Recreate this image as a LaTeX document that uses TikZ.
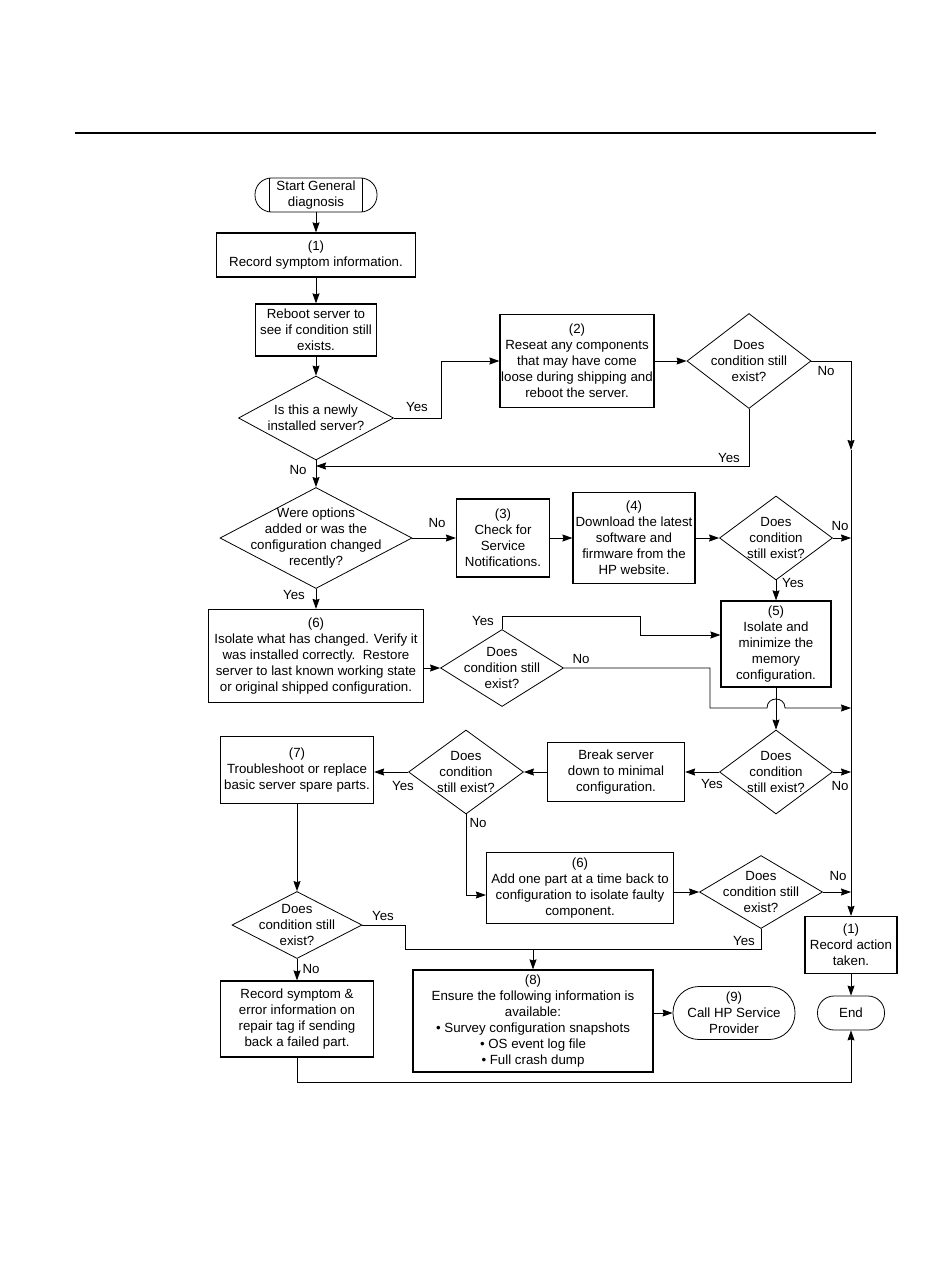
\documentclass[tikz,border=0pt]{standalone}
\usepackage{fontspec}
\setmainfont{Liberation Sans}
\usetikzlibrary{shapes.geometric,arrows.meta}

\begin{document}
\begin{tikzpicture}[x=1pt,y=-1pt,line width=.8pt,
  every node/.style={font=\fontsize{13.3}{16}\selectfont},
  box/.style={draw,line width=1.2pt,align=center,inner sep=1pt},
  term/.style={draw,line width=.8pt,align=center,inner sep=1pt},
  dec/.style={draw,diamond,line width=.8pt,inner sep=0pt},
  txt/.style={align=center,inner sep=0pt},
  lbl/.style={inner sep=0pt},
  arr/.style={-{Stealth[length=10pt,width=7pt,inset=1pt]}}]
\useasboundingbox (0,0) rectangle (950,1284);
\draw[line width=1.3pt] (75,133) -- (876,133);

\node[term,rounded corners=16.5pt,minimum width=122pt,minimum height=34pt] (start) at (316,195) {Start General\\diagnosis};
\draw ([xshift=15pt]start.north west) -- ([xshift=15pt]start.south west);
\draw ([xshift=-15pt]start.north east) -- ([xshift=-15pt]start.south east);
\node[box,minimum width=199pt,minimum height=44pt] (b1) at (316,255) {(1)\\Record symptom information.};
\node[box,minimum width=121pt,minimum height=52pt] (reboot) at (316,330) {Reboot server to\\see if condition still\\exists.};
\node[dec,minimum width=155pt,minimum height=84pt] (q1) at (316,418) {};
\node[txt] (q1t) at (q1) {Is this a newly\\installed server?};
\node[box,minimum width=154pt,minimum height=93pt] (b2) at (577,361) {(2)\\Reseat any components\\that may have come\\loose during shipping and\\reboot the server.};
\node[dec,minimum width=124pt,minimum height=95pt] (q2) at (749,361) {};
\node[txt] (q2t) at (q2) {Does\\condition still\\exist?};

\node[dec,minimum width=192pt,minimum height=101pt] (q3) at (316,538) {};
\node[txt] (q3t) at (q3) {Were options\\added or was the\\configuration changed\\recently?};
\node[box,minimum width=93pt,minimum height=78pt] (b3) at (503,538) {(3)\\Check for\\Service\\Notifications.};
\node[box,minimum width=122pt,minimum height=91pt] (b4) at (634,538) {(4)\\Download the latest\\software and\\firmware from the\\HP website.};
\node[dec,minimum width=113pt,minimum height=84pt] (q4) at (776,538) {};
\node[txt] (q4t) at (q4) {Does\\condition\\still exist?};
\node[box,minimum width=110pt,minimum height=86pt] (b5) at (776,644) {(5)\\Isolate and\\minimize the\\memory\\configuration.};
\node[box,minimum width=215pt,minimum height=93pt] (b6) at (316,656) {(6)\\Isolate what has changed. Verify it\\was installed correctly.\ \ Restore\\server to last known working state\\or original shipped configuration.};
\node[dec,minimum width=123pt,minimum height=77pt] (q5) at (502,668) {};
\node[txt] (q5t) at (q5) {Does\\condition still\\exist?};

\node[dec,minimum width=113pt,minimum height=84pt] (q6) at (776,772) {};
\node[txt] (q6t) at (q6) {Does\\condition\\still exist?};
\node[box,minimum width=137pt,minimum height=59pt] (brk) at (616,772) {Break server\\down to minimal\\configuration.};
\node[dec,minimum width=115pt,minimum height=84pt] (q7) at (466,772) {};
\node[txt] (q7t) at (q7) {Does\\condition\\still exist?};
\node[box,minimum width=153pt,minimum height=67pt] (b7) at (297,770) {(7)\\Troubleshoot or replace\\basic server spare parts.};
\node[box,minimum width=187pt,minimum height=71pt] (b6b) at (580,888) {(6)\\Add one part at a time back to\\configuration to isolate faulty\\component.};
\node[dec,minimum width=123pt,minimum height=73pt] (q8) at (761,892) {};
\node[txt] (q8t) at (q8) {Does\\condition still\\exist?};
\node[dec,minimum width=130pt,minimum height=67pt] (q9) at (297,925) {};
\node[txt] (q9t) at (q9) {Does\\condition still\\exist?};

\node[box,minimum width=153pt,minimum height=76pt] (rec) at (297,1019) {Record symptom \&\\error information on\\repair tag if sending\\back a failed part.};
\node[box,minimum width=240pt,minimum height=102pt] (b8) at (533,1021) {(8)\\Ensure the following information is\\available:\\\textbullet\ Survey configuration snapshots\\\textbullet\ OS event log file\\\textbullet\ Full crash dump};
\node[term,rounded corners=26pt,minimum width=122pt,minimum height=53pt] (call) at (734,1013) {(9)\\Call HP Service\\Provider};
\node[box,minimum width=92pt,minimum height=57pt] (rat) at (851,945) {(1)\\Record action\\taken.};
\node[term,rounded corners=16.5pt,minimum width=67pt,minimum height=34pt] (endn) at (851,1013) {End};

\node[lbl] (l1) at (417,407) {Yes};\node[lbl] (l2) at (826,371) {No};\node[lbl] (l3) at (729,458) {Yes};\node[lbl] (l4) at (298,470) {No};
\node[lbl] (l5) at (437,523) {No};\node[lbl] (l6) at (840,526) {No};\node[lbl] (l7) at (793,583) {Yes};\node[lbl] (l8) at (294,595) {Yes};
\node[lbl] (l9) at (483,621) {Yes};\node[lbl] (l10) at (581,659) {No};\node[lbl] (l11) at (712,784) {Yes};\node[lbl] (l12) at (840,786) {No};
\node[lbl] (l13) at (403,786) {Yes};\node[lbl] (l14) at (478,823) {No};\node[lbl] (l15) at (838,876) {No};\node[lbl] (l16) at (744,941) {Yes};
\node[lbl] (l17) at (383,916) {Yes};\node[lbl] (l18) at (311,969) {No};

\coordinate (m1) at (316,466);
\coordinate (bus) at (851,450);
\coordinate (j2) at (405,949);
\coordinate (j4) at (297,1082);

\draw[arr] (start) -- (b1);
\draw[arr] (b1) -- (reboot);
\draw[arr] (reboot) -- (q1);
\draw[arr] (q1.east) -- ++(47,0) |- (b2.west);
\draw[arr] (b2) -- (q2);
\draw[arr] (q2.east) -| (bus);
\draw[arr] (bus) -- (rat);
\draw[arr] (q2.south) |- (m1);
\draw[arr] (q1) -- (q3);
\draw[arr] (q3) -- (b3);
\draw[arr] (b3) -- (b4);
\draw[arr] (b4) -- (q4);
\draw[arr] (q4.east) -- (q4.east -| bus);
\draw[arr] (q4) -- (b5);
\draw[arr] (q3) -- (b6);
\draw[arr] (q5.west -| b6.east) -- (q5.west);
\draw[arr] (q5.north) |- (640,616) |- ([yshift=9pt]b5.west);
\draw[arr] (q5.east) -| (710,708) -- (767,708) .. controls (767,696) and (785,696) .. (785,708) -- (bus |- 0,708);
\draw[arr] (b5) -- (q6);
\draw[arr] (q6) -- (brk);
\draw[arr] (q6.east) -- (q6.east -| bus);
\draw[arr] (brk) -- (q7);
\draw[arr] (q7.west) -- (q7.west -| b7.east);
\draw[arr] (q7.south) |- ([yshift=-7pt]b6b.west);
\draw[arr] (q8.west -| b6b.east) -- (q8.west);
\draw[arr] (q8.east) -- (q8.east -| bus);
\draw (q9.east) -| (j2) -| (q8.south);
\draw[arr] (b8.north |- j2) -- (b8.north);
\draw[arr] (b7) -- (q9);
\draw[arr] (q9) -- (rec);
\draw[arr] (rec.south) -- (j4) -| (endn.south);
\draw[arr] (call.west -| b8.east) -- (call.west);
\draw[arr] (rat) -- (endn);
\end{tikzpicture}
\end{document}
